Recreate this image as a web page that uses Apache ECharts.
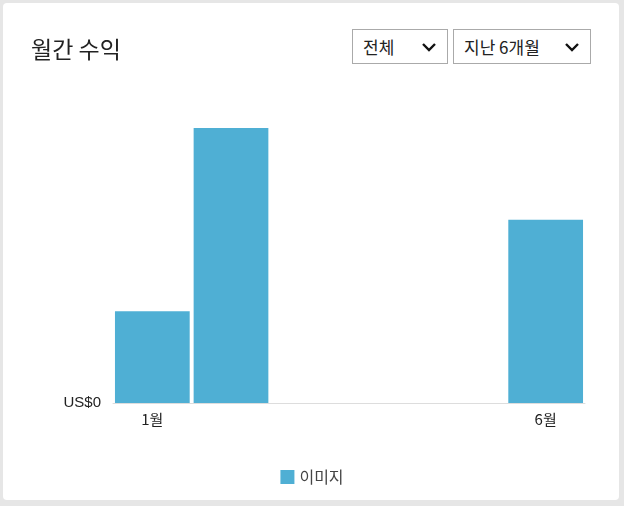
<!DOCTYPE html>
<html><head><meta charset="utf-8">
<script src="https://cdn.jsdelivr.net/npm/echarts@6/dist/echarts.min.js"></script>
<style>
html,body{margin:0;padding:0;background:#e6e6e6;font-family:"Noto Sans CJK KR","Noto Sans",sans-serif;}
#card{position:absolute;left:3px;top:3px;width:616px;height:497px;background:#fff;border-radius:4px;}
#chart{position:absolute;left:0;top:0;width:624px;height:506px;}
.sel{position:absolute;top:29px;height:35px;border:1px solid #aaa;background:#fff;font-size:17px;color:#222;box-sizing:border-box;line-height:33px;padding-left:10px;}
.sel svg{position:absolute;right:10px;top:12px;}
</style></head><body>
<div id="card"></div>
<div id="chart"></div>
<div class="sel" style="left:352px;width:96px">전체<svg width="16" height="10"><polyline points="2,2 8,8 14,2" fill="none" stroke="#111" stroke-width="2.4"/></svg></div>
<div class="sel" style="left:453px;width:138px">지난 6개월<svg width="16" height="10"><polyline points="2,2 8,8 14,2" fill="none" stroke="#111" stroke-width="2.4"/></svg></div>
<script>
const categories=['1월','2월','3월','4월','5월','6월'];
const imageValues=[1,3,0,0,0,2];
const seriesName='이미지';
const chart=echarts.init(document.getElementById('chart'));
chart.setOption({
 title:{text:'월간 수익',left:26,top:33,textStyle:{fontSize:23,fontWeight:'normal',color:'#222',fontFamily:'Noto Sans CJK KR'}},
 legend:{bottom:16,left:'center',itemWidth:14,itemHeight:14,icon:'rect',textStyle:{fontSize:16,color:'#444',fontFamily:'Noto Sans CJK KR'},data:[seriesName]},
 grid:{left:113,right:39,top:128,bottom:103},
 xAxis:{type:'category',data:categories,axisTick:{show:false},axisLine:{lineStyle:{color:'#ddd'}},
  axisLabel:{color:'#222',fontSize:15,margin:9,interval:0,fontFamily:'Noto Sans CJK KR',formatter:(v,i)=>(i===0||i===5)?v:''}},
 yAxis:{type:'value',min:0,max:3,interval:1,splitLine:{show:false},axisLine:{show:false},axisTick:{show:false},
  axisLabel:{color:'#222',fontSize:15,margin:12,formatter:v=>v===0?'US$0':''}},
 series:[{name:seriesName,type:'bar',data:imageValues,barCategoryGap:'5%',itemStyle:{color:'#4fafd4'}}]
});
</script></body></html>
